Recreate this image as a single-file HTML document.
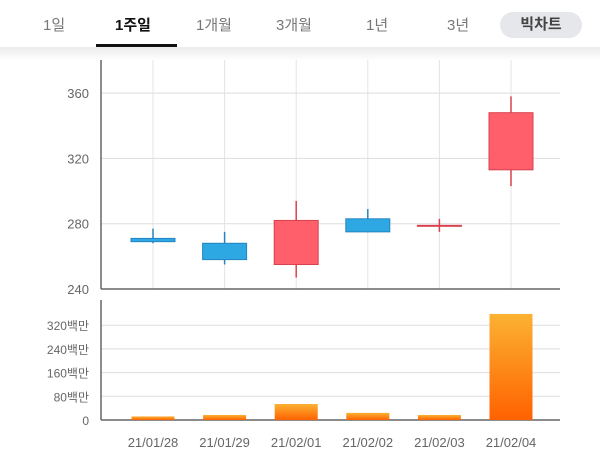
<!DOCTYPE html>
<html><head><meta charset="utf-8"><style>
body{margin:0;width:600px;height:467px;background:#fff;overflow:hidden;font-family:"Liberation Sans","Noto Sans CJK KR",sans-serif;}
#hdr{position:absolute;left:0;top:0;width:600px;height:47px;background:#fff;}
#shadow{position:absolute;left:0;top:47px;width:600px;height:14px;background:linear-gradient(#ececec,#fff);}
.tab{position:absolute;top:14px;font-size:15px;color:#777;}
#ul{position:absolute;left:96px;top:44px;width:81px;height:3px;background:#111;}
#pill{position:absolute;left:500px;top:12px;width:82px;height:26px;border-radius:13px;background:#e6e7ea;color:#444;font-weight:bold;font-size:15px;text-align:center;line-height:26px;}
svg{position:absolute;left:0;top:0;}
</style></head><body>
<div id="hdr">
<span class="tab" style="left:43px">1일</span>
<span class="tab" style="left:115px;color:#111;font-weight:bold">1주일</span>
<span class="tab" style="left:196px">1개월</span>
<span class="tab" style="left:276px">3개월</span>
<span class="tab" style="left:366px">1년</span>
<span class="tab" style="left:447px">3년</span>
<div id="ul"></div>
<div id="pill">빅차트</div>
</div>
<div id="shadow"></div>
<svg id="c" width="600" height="467">
<defs><linearGradient id="vg" x1="0" y1="0" x2="0" y2="1"><stop offset="0" stop-color="#fbb233"/><stop offset="1" stop-color="#ff6200"/></linearGradient></defs>
</svg>
<script>
const categories=["21/01/28","21/01/29","21/02/01","21/02/02","21/02/03","21/02/04"];
const opens=[271,268,255,283,278.5,313];
const closes=[269,258,282,275,279,348];
const highs=[277,275,294,289,283,358];
const lows=[268,255,247,274.6,275,303];
const volumes=[12,17,54,24,17,358];
const priceTicks=[240,280,320,360];
const volTicks=[0,80,160,240,320];
const volTickLabels=["0","80백만","160백만","240백만","320백만"];

const svg=document.getElementById('c');
const NS='http://www.w3.org/2000/svg';
const L=101,R=560;
const xC=i=>153+i*71.6;
const yP=v=>289-(v-240)*65.3/40;
const yV=v=>420-v*23.7/80;
function mk(t,a){const e=document.createElementNS(NS,t);for(const k in a)e.setAttribute(k,a[k]);svg.appendChild(e);return e;}
categories.forEach((c,i)=>{
 let g=mk('line',{x1:xC(i),x2:xC(i),y1:60,y2:289,stroke:'#e4e4e4'});
 
 
 let t=mk('text',{x:xC(i),y:447,'text-anchor':'middle','font-size':13,fill:'#666'});t.textContent=c;
 
 
});
priceTicks.forEach(v=>{
 if(v>240){let g=mk('line',{x1:L,x2:R,y1:yP(v),y2:yP(v),stroke:'#ddd'});
 
 }
 let t=mk('text',{x:89,y:yP(v)+5,'text-anchor':'end','font-size':13,fill:'#666'});t.textContent=v;
 
 
});
volTicks.forEach((v,i)=>{
 if(v>0){let g=mk('line',{x1:L,x2:R,y1:yV(v),y2:yV(v),stroke:'#ddd'});
 
 }
 let t=mk('text',{x:89,y:yV(v)+5,'text-anchor':'end','font-size':12,fill:'#666'});t.textContent=volTickLabels[i];
 
 
});
[[L,60,L,289],[L,289,R,289],[L,300,L,420],[L,420,R,420]].forEach(a=>{
 let e=mk('line',{x1:a[0],y1:a[1],x2:a[2],y2:a[3],stroke:'#666','stroke-width':1.5});
 
 
});
categories.forEach((c,i)=>{
 const up=closes[i]>=opens[i];
 const fill=up?'#fe5f6b':'#2ea8e3', st=up?'#d8424e':'#2585c0';
 let w=mk('line',{x1:xC(i),x2:xC(i),y1:yP(highs[i]),y2:yP(lows[i]),stroke:st,'stroke-width':1.5});
 
 
 const t=yP(Math.max(opens[i],closes[i])),b=yP(Math.min(opens[i],closes[i]));
 let r=mk('rect',{x:xC(i)-22,y:t,width:44,height:Math.max(b-t,1),fill:fill,stroke:st,'stroke-width':1});
 
 
 let v=mk('rect',{x:xC(i)-21.5,y:yV(volumes[i]),width:43,height:420-yV(volumes[i]),fill:'url(#vg)'});
 
 
});
</script>
</body></html>
